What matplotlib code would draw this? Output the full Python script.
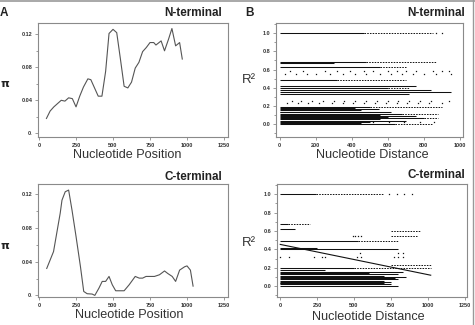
import matplotlib
matplotlib.use("Agg")
import matplotlib.pyplot as plt
from matplotlib.ticker import MultipleLocator, FixedLocator
from matplotlib.lines import Line2D

plt.rcParams['font.family'] = ['Liberation Sans', 'DejaVu Sans']

# ---------------- data ----------------
# Panel A: nucleotide diversity (pi) along position
n_pos = [50, 75, 100, 125, 150, 175, 200, 225, 250, 275, 300, 330, 350, 375, 400, 425,
         450, 473, 500, 525, 550, 575, 600, 625, 650, 675, 700, 725, 750, 775, 790, 825,
         848, 875, 898, 923, 950, 968]
n_pi = [0.018, 0.027, 0.032, 0.036, 0.040, 0.039, 0.043, 0.042, 0.032, 0.045, 0.056, 0.066,
        0.065, 0.055, 0.045, 0.045, 0.075, 0.121, 0.126, 0.122, 0.090, 0.057, 0.055, 0.062,
        0.079, 0.086, 0.099, 0.104, 0.110, 0.110, 0.107, 0.112, 0.100, 0.114, 0.127, 0.106,
        0.110, 0.090]

c_pos = [52, 98, 143, 155, 177, 200, 223, 250, 280, 302, 325, 359, 377, 405, 427, 450, 473,
         495, 518, 575, 609, 650, 677, 700, 723, 750, 780, 814, 848, 870, 900, 923, 950, 984,
         1000, 1023, 1041]
c_pi = [0.032, 0.052, 0.0975, 0.113, 0.123, 0.125, 0.101, 0.070, 0.034, 0.0047, 0.002,
        0.0016, 0.0, 0.0087, 0.0166, 0.0166, 0.0225, 0.0126, 0.0055, 0.0055, 0.0126, 0.0225,
        0.0205, 0.0205, 0.0225, 0.0225, 0.0225, 0.0245, 0.029, 0.026, 0.0225, 0.0166, 0.030,
        0.034, 0.035, 0.030, 0.011]

# Panel B: linkage disequilibrium (R^2) vs distance; dense rows of points (level, from, to)
n_dense_rows = [(1.00, 0, 470), (0.68, 0, 480), (0.67, 0, 300), (0.63, 0, 560),
                (0.49, 0, 320), (0.42, 0, 760), (0.40, 0, 600), (0.38, 0, 840),
                (0.35, 0, 950), (0.33, 0, 720), (0.19, 0, 500), (0.18, 0, 420),
                (0.165, 0, 550), (0.155, 0, 450), (0.14, 0, 620), (0.13, 0, 500),
                (0.115, 0, 680), (0.105, 0, 560), (0.09, 0, 760), (0.08, 0, 600),
                (0.065, 0, 800), (0.055, 0, 560), (0.04, 0, 700), (0.025, 0, 500),
                (0.012, 0, 450), (0.00, 0, 640)]
n_broken_rows = [(1.00, 470, 850), (0.68, 480, 870), (0.63, 560, 700), (0.49, 320, 700),
                 (0.40, 600, 720), (0.19, 500, 900), (0.115, 680, 880), (0.065, 800, 880),
                 (0.00, 640, 850)]
n_sparse_levels = [0.58, 0.55, 0.26, 0.23, 1.00, 0.02]
n_sparse_x = [
    [60, 130, 250, 320, 390, 470, 520, 600, 650, 700, 760, 850, 900, 940],
    [30, 90, 150, 200, 280, 350, 420, 480, 560, 620, 680, 740, 800, 870, 950],
    [70, 120, 180, 240, 300, 360, 420, 480, 540, 600, 660, 720, 780, 840, 940],
    [40, 100, 160, 220, 290, 350, 410, 470, 530, 590, 650, 710, 770, 830, 900],
    [870, 900],
    [520, 610, 690, 780, 860],
]

c_dense_rows = [(1.00, 0, 240), (0.68, 0, 55), (0.62, 0, 100), (0.49, 0, 530),
                (0.42, 0, 250), (0.40, 0, 800), (0.20, 0, 500), (0.18, 0, 300),
                (0.16, 0, 830), (0.145, 0, 600), (0.13, 0, 800), (0.115, 0, 700),
                (0.10, 0, 850), (0.09, 0, 780), (0.075, 0, 800), (0.06, 0, 700),
                (0.05, 0, 750), (0.04, 0, 600), (0.03, 0, 700), (0.02, 0, 750),
                (0.005, 0, 800)]
c_broken_rows = [(1.00, 240, 700), (0.68, 55, 200), (0.49, 530, 800), (0.20, 500, 1020),
                 (0.23, 750, 1020), (0.55, 750, 930), (0.60, 750, 950)]
c_sparse_levels = [1.00, 0.55, 0.32, 0.36]
c_sparse_x = [
    [740, 790, 840, 890],
    [490, 510, 530, 550],
    [0, 60, 230, 280, 300, 520, 550, 770, 800, 830],
    [540, 800, 830],
]
c_fit_x = [0, 1020]
c_fit_y = [0.455, 0.12]

pi_ticks = [0.0, 0.04, 0.08, 0.12]
pi_ticklabels = ['0.', '0.04', '0.08', '0.12']
pos_ticks = [0, 250, 500, 750, 1000, 1250]
r2_ticks = [0.0, 0.2, 0.4, 0.6, 0.8, 1.0]
r2_ticklabels = ['0.0', '0.2', '0.4', '0.6', '0.8', '1.0']
n_dist_ticks = [0, 200, 400, 600, 800, 1000]
c_dist_ticks = [0, 250, 500, 750, 1000, 1250]

# ---------------- figure ----------------
W, H = 475, 325
fig = plt.figure(figsize=(W / 100, H / 100), dpi=100)
fig.patch.set_facecolor('white')

def add_ax(x0, y0, x1, y1):
    return fig.add_axes([x0 / W, 1 - y1 / H, (x1 - x0) / W, (y1 - y0) / H])

def fx(x):
    return x / W

def fy(y):
    return 1 - y / H

ax_tl = add_ax(38, 23, 228, 137)
ax_tr = add_ax(276, 23, 463, 137)
ax_bl = add_ax(38, 184, 228, 297)
ax_br = add_ax(277, 184, 467, 297)

spine_c = '#8a8a8a'
tick_c = '#333333'

def style(ax):
    for s in ['top', 'right', 'left', 'bottom']:
        ax.spines[s].set_color(spine_c)
        ax.spines[s].set_linewidth(0.8)
    ax.tick_params(axis='both', which='both', direction='out', colors=spine_c,
                   labelcolor=tick_c, labelsize=4, length=2.5, width=0.6, pad=1.5)
    ax.tick_params(axis='both', which='minor', length=1.5)
    for lab in ax.get_xticklabels() + ax.get_yticklabels():
        lab.set_fontweight('bold')

line_c = '#555555'

# Panel A top
ax_tl.plot(n_pos, n_pi, color=line_c, lw=0.8)
ax_tl.set_xlim(-7, 1277)
ax_tl.set_ylim(-0.0045, 0.1337)
# Panel A bottom
ax_bl.plot(c_pos, c_pi, color=line_c, lw=0.8)
ax_bl.set_xlim(-7, 1277)
ax_bl.set_ylim(-0.0019, 0.1322)
for ax in (ax_tl, ax_bl):
    ax.xaxis.set_major_locator(FixedLocator(pos_ticks))
    ax.set_xticklabels([str(t) for t in pos_ticks])
    ax.yaxis.set_major_locator(FixedLocator(pi_ticks))
    ax.set_yticklabels(pi_ticklabels)
    ax.yaxis.set_minor_locator(MultipleLocator(0.02))
    style(ax)

dot_c = '#111111'

def draw_ld(ax, dense, broken, levels, xs):
    for (yv, a, b) in dense:
        ax.hlines(yv, a, b, color=dot_c, lw=0.75)
    for (yv, a, b) in broken:
        ax.hlines(yv, a, b, color=dot_c, lw=0.7, linestyles=(0, (1.6, 1.2)))
    for yv, xl in zip(levels, xs):
        ax.plot(xl, [yv] * len(xl), ls='none', marker='s', ms=0.9, color=dot_c, mew=0)

draw_ld(ax_tr, n_dense_rows, n_broken_rows, n_sparse_levels, n_sparse_x)
ax_tr.set_xlim(-20, 1019)
ax_tr.set_ylim(-0.139, 1.11)
ax_tr.xaxis.set_major_locator(FixedLocator(n_dist_ticks))
ax_tr.set_xticklabels([str(t) for t in n_dist_ticks])

draw_ld(ax_br, c_dense_rows, c_broken_rows, c_sparse_levels, c_sparse_x)
ax_br.plot(c_fit_x, c_fit_y, color=dot_c, lw=0.8)
ax_br.set_xlim(-22, 1266)
ax_br.set_ylim(-0.117, 1.112)
ax_br.xaxis.set_major_locator(FixedLocator(c_dist_ticks))
ax_br.set_xticklabels([str(t) for t in c_dist_ticks])

for ax in (ax_tr, ax_br):
    ax.yaxis.set_major_locator(FixedLocator(r2_ticks))
    ax.set_yticklabels(r2_ticklabels)
    ax.yaxis.set_minor_locator(MultipleLocator(0.1))
    style(ax)

# ---------------- texts ----------------
lab_c = '#333333'
dark = '#222222'
fig.text(fx(0), fy(13), 'A', fontsize=8.5, fontweight='bold', ha='left', va='center', color=dark)
fig.text(fx(249), fy(13), 'B', fontsize=8.5, fontweight='bold', ha='center', va='center', color=dark)
fig.text(fx(222), fy(12.5), 'N-terminal', fontsize=8.4, fontweight='bold', ha='right', va='center', color=dark)
fig.text(fx(465), fy(13), 'N-terminal', fontsize=8.4, fontweight='bold', ha='right', va='center', color=dark)
fig.text(fx(222), fy(176.5), 'C-terminal', fontsize=8.4, fontweight='bold', ha='right', va='center', color=dark)
fig.text(fx(465), fy(175), 'C-terminal', fontsize=8.4, fontweight='bold', ha='right', va='center', color=dark)

fig.text(fx(127), fy(154.5), 'Nucleotide Position', fontsize=9.1, ha='center', va='center', color=lab_c)
fig.text(fx(129.5), fy(315.5), 'Nucleotide Position', fontsize=9.1, ha='center', va='center', color=lab_c)
fig.text(fx(372), fy(154.5), 'Nucleotide Distance', fontsize=9.1, ha='center', va='center', color=lab_c)
fig.text(fx(368), fy(317), 'Nucleotide Distance', fontsize=9.1, ha='center', va='center', color=lab_c)

fig.text(fx(5), fy(84), 'π', fontsize=8, fontweight='bold', ha='center', va='center', color=dark,
         family=['DejaVu Sans'])
fig.text(fx(5), fy(246), 'π', fontsize=8, fontweight='bold', ha='center', va='center', color=dark,
         family=['DejaVu Sans'])
fig.text(fx(249), fy(80), 'R²', fontsize=9.5, ha='center', va='center', color=lab_c)
fig.text(fx(249), fy(243), 'R²', fontsize=9.5, ha='center', va='center', color=lab_c)

# frame lines (top and right)
fig.add_artist(Line2D([0, 1], [fy(0.7), fy(0.7)], transform=fig.transFigure, color='#999999', lw=1.2))
fig.add_artist(Line2D([fx(472.8), fx(472.8)], [0, 1], transform=fig.transFigure, color='#999999', lw=1.0))

fig.savefig('out.png', dpi=100, facecolor='white')
